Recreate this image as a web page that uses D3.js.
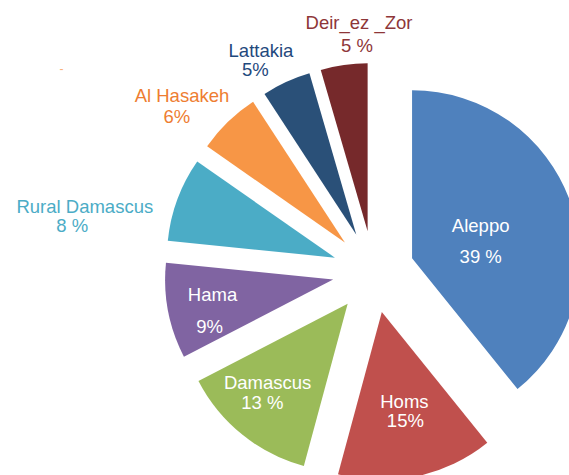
<!DOCTYPE html>
<html>
<head>
<meta charset="utf-8">
<script src="https://cdn.jsdelivr.net/npm/d3@7"></script>
<style>
  html, body { margin: 0; padding: 0; background: #fff; }
  text { font-family: "Liberation Sans", Arial, sans-serif; }
</style>
</head>
<body>
<svg id="chart" width="569" height="475"></svg>
<script>
// governorate shares (%)
const regions = ['Aleppo', 'Homs', 'Damascus', 'Hama', 'Rural Damascus', 'Al Hasakeh', 'Lattakia', 'Deir_ez _Zor'];
const shares = [39.2, 15.0, 13.2, 9.2, 8.1, 6.1, 4.7, 4.5];
const pctLabels = ['39 %', '15%', '13 %', '9%', '8 %', '6%', '5%', '5 %'];

const sliceColors = ['#4F81BD', '#C0504D', '#9BBB59', '#8064A2', '#4BACC6', '#F79646', '#2A5078', '#76292B'];
const labelColors = ['#fff', '#fff', '#fff', '#fff', '#4BACC6', '#EE7D31', '#1F497D', '#8E3638'];

// label block placement: angle (deg, clockwise from top) and distance from pie centre
const labelAngle = [77.2, 167.8, 220.5, 254.5, 279.5, 309.4, 330.7, 356.2];
const labelDist = [110, 149, 167, 168.5, 299, 251, 235.5, 232];
const lineGap = [31, 19, 20, 32, 19, 21, 19, 23];
const nameShift = [0, -0.5, 2.7, 1.5, 6.3, 2.5, 2.8, 1];

const width = 569, height = 475;
const cx = 373.4, cy = 271.9;
const radius = 168;
const explode = 41;

const svg = d3.select('#chart');
const g = svg.append('g').attr('transform', `translate(${cx},${cy})`);

const data = regions.map((r, i) => ({ name: r, value: shares[i], i: i }));

const pieGen = d3.pie().sort(null).value(d => d.value);
const arcGen = d3.arc().innerRadius(0).outerRadius(radius);

const arcs = pieGen(data);

g.selectAll('path.slice')
  .data(arcs)
  .join('path')
  .attr('class', 'slice')
  .attr('d', arcGen)
  .attr('fill', d => sliceColors[d.data.i])
  .attr('transform', d => {
    const mid = (d.startAngle + d.endAngle) / 2;
    return `translate(${explode * Math.sin(mid)},${-explode * Math.cos(mid)})`;
  });

const labels = g.selectAll('g.lbl')
  .data(arcs)
  .join('g')
  .attr('class', 'lbl')
  .attr('transform', d => {
    const a = labelAngle[d.data.i] * Math.PI / 180;
    const r = labelDist[d.data.i];
    return `translate(${r * Math.sin(a)},${-r * Math.cos(a)})`;
  });

labels.append('text')
  .attr('x', d => nameShift[d.data.i])
  .attr('y', d => -lineGap[d.data.i] / 2)
  .attr('text-anchor', 'middle')
  .attr('font-size', 18.5)
  .attr('fill', d => labelColors[d.data.i])
  .text(d => d.data.name);

labels.append('text')
  .attr('x', d => -nameShift[d.data.i])
  .attr('y', d => lineGap[d.data.i] / 2)
  .attr('text-anchor', 'middle')
  .attr('font-size', 18.5)
  .attr('fill', d => labelColors[d.data.i])
  .text(d => pctLabels[d.data.i]);

// stray dash left over in the source picture
svg.append('text')
  .attr('x', 61.5).attr('y', 73)
  .attr('text-anchor', 'middle')
  .attr('font-size', 12)
  .attr('fill', '#F9B07A')
  .text('-');
</script>
</body>
</html>
